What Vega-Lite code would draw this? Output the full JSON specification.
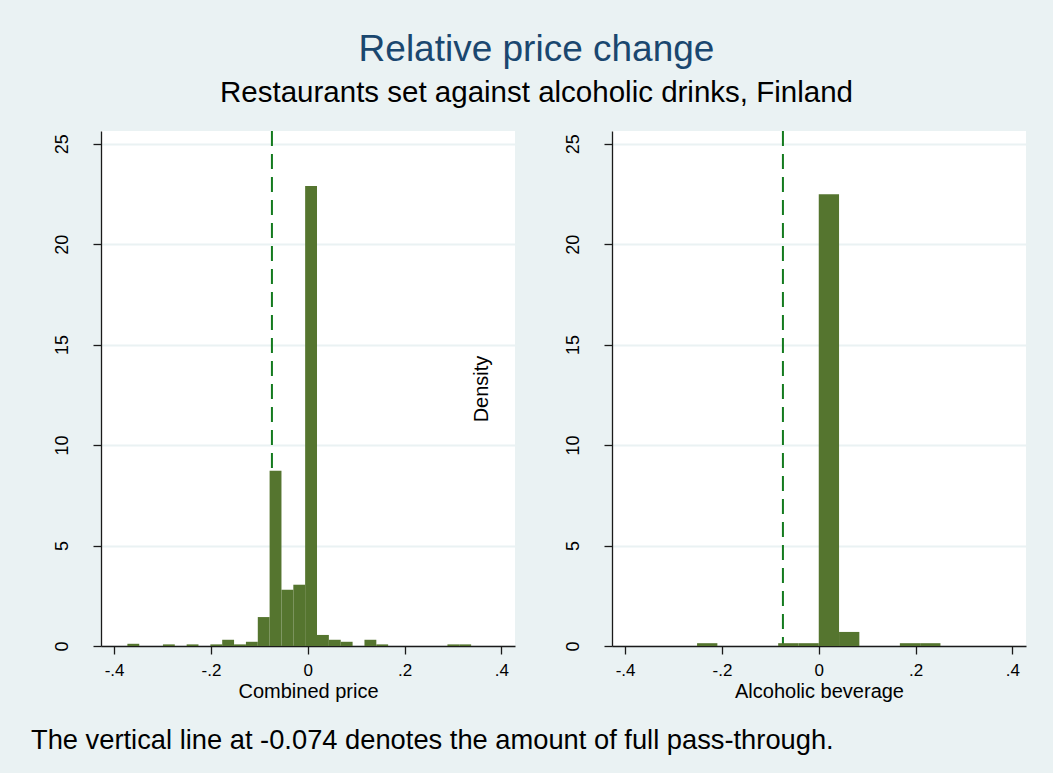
{
  "$schema": "https://vega.github.io/schema/vega-lite/v6.json",
  "background": "#eaf2f3",
  "padding": {"left": 31, "top": 30, "right": 27, "bottom": 20},
  "title": {
    "text": "Relative price change",
    "subtitle": "Restaurants set against alcoholic drinks, Finland",
    "font": "Liberation Sans",
    "fontSize": 37,
    "fontWeight": "normal",
    "color": "#1a476f",
    "subtitleFont": "Liberation Sans",
    "subtitleFontSize": 29.5,
    "subtitleColor": "#000000",
    "subtitlePadding": 10,
    "anchor": "middle",
    "dx": 8,
    "offset": 22
  },
  "datasets": {
    "combined": [
      {"bin_start": -0.3725, "bin_end": -0.3480, "density": 0.11},
      {"bin_start": -0.2991, "bin_end": -0.2746, "density": 0.08},
      {"bin_start": -0.2501, "bin_end": -0.2257, "density": 0.08},
      {"bin_start": -0.2011, "bin_end": -0.1767, "density": 0.08},
      {"bin_start": -0.1767, "bin_end": -0.1522, "density": 0.31},
      {"bin_start": -0.1522, "bin_end": -0.1277, "density": 0.08},
      {"bin_start": -0.1277, "bin_end": -0.1032, "density": 0.21},
      {"bin_start": -0.1032, "bin_end": -0.0788, "density": 1.44},
      {"bin_start": -0.0788, "bin_end": -0.0543, "density": 8.72},
      {"bin_start": -0.0543, "bin_end": -0.0298, "density": 2.80},
      {"bin_start": -0.0298, "bin_end": -0.0054, "density": 3.05},
      {"bin_start": -0.0054, "bin_end": 0.0191, "density": 22.89},
      {"bin_start": 0.0191, "bin_end": 0.0436, "density": 0.55},
      {"bin_start": 0.0436, "bin_end": 0.0681, "density": 0.31},
      {"bin_start": 0.0681, "bin_end": 0.0926, "density": 0.21},
      {"bin_start": 0.1171, "bin_end": 0.1416, "density": 0.31},
      {"bin_start": 0.1416, "bin_end": 0.1660, "density": 0.08},
      {"bin_start": 0.2885, "bin_end": 0.3130, "density": 0.08},
      {"bin_start": 0.3130, "bin_end": 0.3374, "density": 0.08}
    ],
    "alcohol": [
      {"bin_start": -0.2513, "bin_end": -0.2094, "density": 0.14},
      {"bin_start": -0.0838, "bin_end": -0.0419, "density": 0.14},
      {"bin_start": -0.0419, "bin_end": 0.0, "density": 0.14},
      {"bin_start": 0.0, "bin_end": 0.0419, "density": 22.48},
      {"bin_start": 0.0419, "bin_end": 0.0838, "density": 0.70},
      {"bin_start": 0.1675, "bin_end": 0.2094, "density": 0.14},
      {"bin_start": 0.2094, "bin_end": 0.2513, "density": 0.14}
    ],
    "passthrough": [{"x": -0.074}]
  },
  "vconcat": [
    {
      "title": {
        "text": "The vertical line at -0.074 denotes the amount of full pass-through.",
        "orient": "bottom",
        "anchor": "start",
        "frame": "group",
        "font": "Liberation Sans",
        "fontSize": 27.3,
        "fontWeight": "normal",
        "color": "#000000",
        "offset": 26,
        "dx": -70
      },
      "bounds": "flush",
      "spacing": 97,
      "hconcat": [
        {
          "width": 414,
          "height": 515,
          "layer": [
            {
              "data": {"name": "passthrough"},
              "mark": {"type": "rule", "color": "#137a1e", "strokeWidth": 2, "strokeDash": [15, 8]},
              "encoding": {
                "x": {"field": "x", "type": "quantitative", "title": "Combined price",
                      "scale": {"domain": [-0.427, 0.428], "nice": false, "zero": false}}
              }
            },
            {
              "data": {"name": "combined"},
              "mark": {"type": "rect", "color": "#55752f"},
              "encoding": {
                "x": {"field": "bin_start", "type": "quantitative", "title": "Combined price",
                      "axis": {"values": [-0.4, -0.2, 0, 0.2, 0.4]},
                      "scale": {"domain": [-0.427, 0.428], "nice": false, "zero": false}},
                "x2": {"field": "bin_end"},
                "y": {"field": "density", "type": "quantitative", "title": null,
                      "axis": {"values": [0, 5, 10, 15, 20, 25]},
                      "scale": {"domain": [0, 25.63], "nice": false}},
                "y2": {"datum": 0}
              }
            }
          ]
        },
        {
          "width": 414,
          "height": 515,
          "layer": [
            {
              "data": {"name": "passthrough"},
              "mark": {"type": "rule", "color": "#137a1e", "strokeWidth": 2, "strokeDash": [15, 8]},
              "encoding": {
                "x": {"field": "x", "type": "quantitative", "title": "Alcoholic beverage",
                      "scale": {"domain": [-0.427, 0.428], "nice": false, "zero": false}}
              }
            },
            {
              "data": {"name": "alcohol"},
              "mark": {"type": "rect", "color": "#55752f"},
              "encoding": {
                "x": {"field": "bin_start", "type": "quantitative", "title": "Alcoholic beverage",
                      "axis": {"values": [-0.4, -0.2, 0, 0.2, 0.4]},
                      "scale": {"domain": [-0.427, 0.428], "nice": false, "zero": false}},
                "x2": {"field": "bin_end"},
                "y": {"field": "density", "type": "quantitative", "title": "Density",
                      "axis": {"values": [0, 5, 10, 15, 20, 25], "titlePadding": 73},
                      "scale": {"domain": [0, 25.63], "nice": false}},
                "y2": {"datum": 0}
              }
            }
          ]
        }
      ]
    }
  ],
  "config": {
    "view": {"fill": "white", "stroke": null},
    "axis": {
      "labelFont": "Liberation Sans",
      "titleFont": "Liberation Sans",
      "labelFontSize": 17,
      "titleFontSize": 20,
      "titleFontWeight": "normal",
      "labelColor": "#000000",
      "titleColor": "#000000",
      "domainColor": "#1a1a1a",
      "tickColor": "#1a1a1a",
      "domainWidth": 1.3,
      "tickWidth": 1.3,
      "tickSize": 8
    },
    "axisX": {
      "grid": false,
      "labelExpr": "datum.value == 0 ? '0' : (datum.value < 0 ? '-' : '') + '.' + round(abs(datum.value) * 10)",
      "labelPadding": 8,
      "titlePadding": 3,
      "labelFlush": false
    },
    "axisY": {
      "grid": true,
      "gridColor": "#eaf2f3",
      "gridWidth": 2,
      "labelAngle": -90,
      "labelPadding": 22,
      "labelFontSize": 18
    }
  }
}
